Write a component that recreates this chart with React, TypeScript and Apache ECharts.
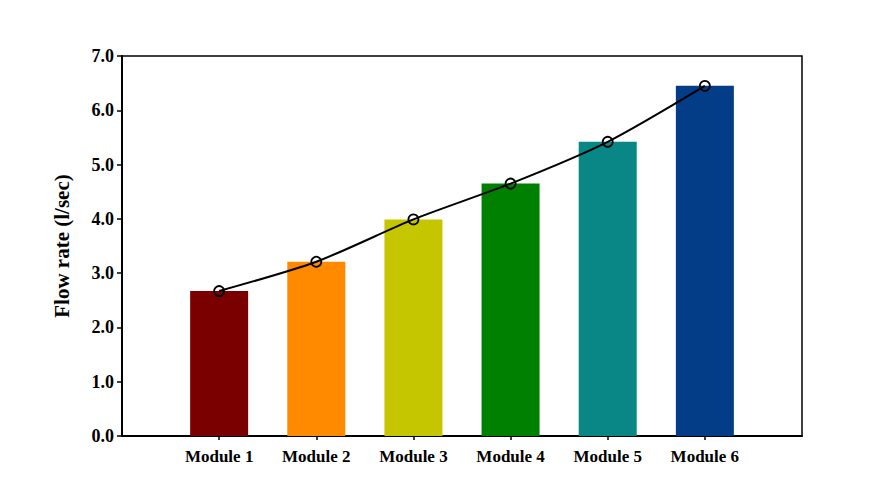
import React, { useEffect, useRef } from "react";
import * as echarts from "echarts";

const categories = ["Module 1", "Module 2", "Module 3", "Module 4", "Module 5", "Module 6"];
const flowRates = [2.67, 3.21, 3.99, 4.65, 5.42, 6.45];
const barColors = ["#7a0000", "#ff8a00", "#c6c600", "#008000", "#098686", "#033d88"];
const yTicks = [0, 1, 2, 3, 4, 5, 6, 7];

const FONT = "'Liberation Serif', 'Times New Roman', serif";

export default function App() {
  const ref = useRef<HTMLDivElement>(null);
  useEffect(() => {
    document.body.style.margin = "0";
    const chart = echarts.init(ref.current!, null, { renderer: "svg" });
    const positions = categories.map((_, i) => i + 1);
    chart.setOption({
      animation: false,
      backgroundColor: "#ffffff",
      grid: {
        left: 122,
        right: 94,
        top: 56,
        bottom: 52,
        show: true,
        borderColor: "#000",
        borderWidth: 1.5,
        backgroundColor: "transparent",
      },
      xAxis: {
        type: "value",
        min: 0,
        max: categories.length + 1,
        interval: 1,
        splitLine: { show: false },
        axisLine: { show: true, lineStyle: { color: "#000", width: 2 } },
        axisTick: {
          show: true,
          length: 4,
          lineStyle: { color: "#000", width: 1.5 },
          customValues: positions,
        },
        axisLabel: {
          customValues: positions,
          margin: 12,
          color: "#000",
          fontFamily: FONT,
          fontWeight: "bold",
          fontSize: 17,
          formatter: (v: number) => categories[Math.round(v) - 1] ?? "",
        },
      },
      yAxis: {
        type: "value",
        min: yTicks[0],
        max: yTicks[yTicks.length - 1],
        interval: 1,
        name: "Flow rate (l/sec)",
        nameLocation: "middle",
        nameGap: 50,
        nameTextStyle: {
          color: "#000",
          fontFamily: FONT,
          fontWeight: "bold",
          fontSize: 21,
        },
        splitLine: { show: false },
        axisLine: { show: true, lineStyle: { color: "#000", width: 2 } },
        axisTick: { show: true, length: 5, lineStyle: { color: "#000", width: 1.5 } },
        axisLabel: {
          margin: 8,
          color: "#000",
          fontFamily: FONT,
          fontWeight: "bold",
          fontSize: 18,
          formatter: (v: number) => v.toFixed(1),
        },
      },
      series: [
        {
          type: "bar",
          barWidth: 58,
          data: flowRates.map((v, i) => ({
            value: [positions[i], v],
            itemStyle: { color: barColors[i] },
          })),
          z: 2,
        },
        {
          type: "line",
          smooth: 0.25,
          symbol: "circle",
          symbolSize: 10,
          lineStyle: { color: "#000", width: 2 },
          itemStyle: { color: "transparent", borderColor: "#000", borderWidth: 1.8 },
          data: flowRates.map((v, i) => [positions[i], v]),
          z: 5,
        },
      ],
    });
    return () => chart.dispose();
  }, []);
  return <div ref={ref} style={{ width: 896, height: 488 }} />;
}
